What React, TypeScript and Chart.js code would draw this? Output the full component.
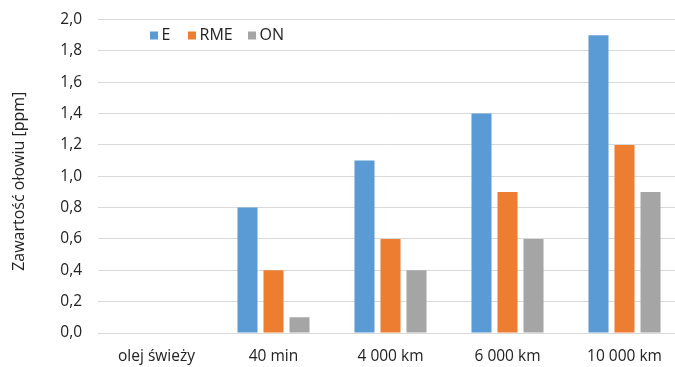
import React, { useEffect, useRef } from "react";
import { Chart, registerables } from "chart.js";

Chart.register(...registerables);

const categories = ["olej świeży", "40 min", "4 000 km", "6 000 km", "10 000 km"];
const seriesE = [0, 0.8, 1.1, 1.4, 1.9];
const seriesRME = [0, 0.4, 0.6, 0.9, 1.2];
const seriesON = [0, 0.1, 0.4, 0.6, 0.9];
const seriesNames = ["E", "RME", "ON"];
const seriesColors = ["#5b9bd5", "#ed7d31", "#a5a5a5"];

const FONT = "'Open Sans', sans-serif";
const FONT_SIZE = 15.5;
const TEXT = "#222222";

// horizontal offsets of the legend swatches from the plot's left edge
const legendOffsets = [52, 90, 150];

const fmt = (v: number) => v.toFixed(1).replace(".", ",");

// Legend drawn in a row inside the plot, near its top-left corner
const insideLegend = {
  id: "insideLegend",
  afterDraw(chart: any) {
    const { ctx, chartArea } = chart;
    ctx.save();
    ctx.font = `16px ${FONT}`;
    ctx.textBaseline = "middle";
    const y = chartArea.top + 16;
    chart.data.datasets.forEach((ds: any, i: number) => {
      const x = chartArea.left + legendOffsets[i];
      ctx.fillStyle = ds.backgroundColor;
      ctx.fillRect(x, y - 4, 8, 8);
      ctx.fillStyle = TEXT;
      ctx.fillText(ds.label, x + 11.5, y);
    });
    ctx.restore();
  },
};

// Rotated axis title, centred a little below the plot's middle
const yAxisTitle = {
  id: "yAxisTitle",
  afterDraw(chart: any) {
    const { ctx, chartArea } = chart;
    ctx.save();
    ctx.font = `16px ${FONT}`;
    ctx.fillStyle = TEXT;
    ctx.textAlign = "center";
    ctx.textBaseline = "middle";
    ctx.translate(19, (chartArea.top + chartArea.bottom) / 2 + 5);
    ctx.rotate(-Math.PI / 2);
    ctx.fillText("Zawartość ołowiu [ppm]", 0, 0);
    ctx.restore();
  },
};

export default function App() {
  const ref = useRef<HTMLCanvasElement>(null);

  useEffect(() => {
    if (!ref.current) return;
    const values = [seriesE, seriesRME, seriesON];
    const chart = new Chart(ref.current, {
      type: "bar",
      data: {
        labels: categories,
        datasets: values.map((d, i) => ({
          label: seriesNames[i],
          data: d,
          backgroundColor: seriesColors[i],
          borderWidth: 0,
          barPercentage: 0.77,
          categoryPercentage: 0.667,
        })),
      },
      options: {
        animation: false,
        responsive: false,
        layout: { padding: { top: 19.5, right: 17, bottom: 0, left: 0 } },
        plugins: {
          legend: { display: false },
          tooltip: { enabled: false },
        },
        scales: {
          x: {
            grid: { display: false, drawTicks: false },
            border: { display: true, color: "#d9d9d9", width: 1 },
            ticks: {
              color: TEXT,
              font: { family: FONT, size: FONT_SIZE },
              padding: 14,
              maxRotation: 0,
            },
            afterFit: (s: any) => {
              s.height = 34;
              s.paddingLeft = 0;
              s.paddingRight = 0;
            },
          },
          y: {
            min: 0,
            max: 2,
            grid: { color: "#d9d9d9", lineWidth: 1, drawTicks: false },
            border: { display: false },
            ticks: {
              stepSize: 0.2,
              color: TEXT,
              font: { family: FONT, size: FONT_SIZE },
              padding: 16,
              callback: (v: any) => fmt(Number(v)),
            },
            afterFit: (s: any) => {
              s.width = 98;
              s.paddingTop = 0;
              s.paddingBottom = 0;
            },
          },
        },
      },
      plugins: [insideLegend, yAxisTitle],
    });
    return () => chart.destroy();
  }, []);

  return (
    <div
      style={{
        position: "fixed",
        left: 0,
        top: 0,
        width: 675,
        height: 367,
        overflow: "hidden",
        background: "#fff",
      }}
    >
      <canvas ref={ref} width={700} height={367} style={{ display: "block" }} />
    </div>
  );
}
